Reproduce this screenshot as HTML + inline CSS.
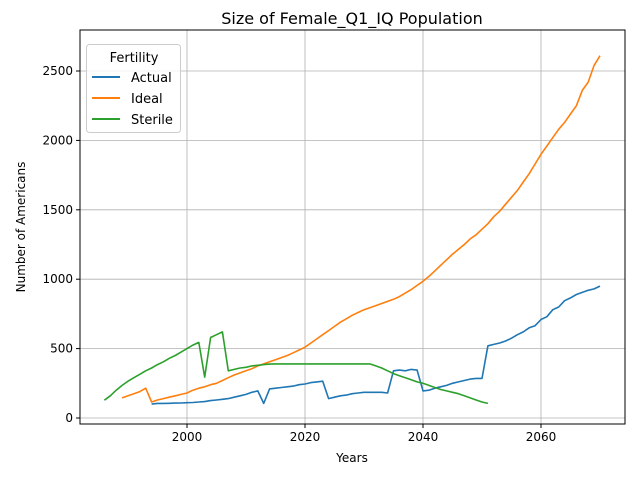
<!DOCTYPE html>
<html><head><meta charset="utf-8"><style>
body{margin:0;background:#fff}
svg{font-family:"DejaVu Sans","Liberation Sans",sans-serif}
</style></head><body>
<svg id="chart" width="640" height="480">
<rect width="640" height="480" fill="#fff"/>
<g id="grid"></g>
<g id="series"></g>
<rect x="80" y="30" width="545" height="394" fill="none" stroke="#000" stroke-width="1"/>
<g id="axes"></g>
<text x="352" y="29" text-anchor="middle" font-size="16" dy="-5">Size of Female_Q1_IQ Population</text>
<text x="352" y="462" text-anchor="middle" font-size="12">Years</text>
<text x="25" y="227" text-anchor="middle" font-size="12" transform="rotate(-90 25 227)">Number of Americans</text>
<g>
<rect x="86.5" y="44.5" width="94" height="88" rx="3" fill="#fff" fill-opacity="0.8" stroke="#ccc"/>
<text x="134" y="62" text-anchor="middle" font-size="13">Fertility</text>
<line x1="92" y1="77" x2="120" y2="77" stroke="#1f77b4" stroke-width="2"/>
<text x="131" y="82" font-size="13">Actual</text>
<line x1="92" y1="98" x2="120" y2="98" stroke="#ff7f0e" stroke-width="2"/>
<text x="131" y="103" font-size="13">Ideal</text>
<line x1="92" y1="119" x2="120" y2="119" stroke="#2ca02c" stroke-width="2"/>
<text x="131" y="124" font-size="13">Sterile</text>
</g>
</svg>
<script>
const xTicks=[2000,2020,2040,2060];
const yTicks=[0,500,1000,1500,2000,2500];
const actualStart=1994;
const actualVals=[100,105,105,106,107,108,110,112,115,118,125,130,135,140,150,160,170,185,195,105,210,215,220,225,230,240,245,255,260,265,140,150,160,165,175,180,185,185,185,185,180,340,345,340,350,345,195,200,215,225,235,250,260,270,280,285,285,520,530,540,555,575,600,620,650,665,710,730,780,800,845,865,890,905,920,930,950];
const idealStart=1989;
const idealVals=[145,160,175,190,215,115,130,140,150,160,170,180,200,215,225,240,250,270,290,310,325,340,355,375,390,405,420,435,450,470,490,510,540,570,600,630,660,690,715,740,760,780,795,810,825,840,855,875,900,925,955,985,1020,1060,1100,1140,1180,1215,1250,1290,1320,1360,1400,1450,1490,1540,1590,1640,1700,1760,1830,1900,1960,2020,2080,2130,2190,2250,2360,2420,2540,2610];
const sterileStart=1986;
const sterileVals=[128,160,200,235,265,290,315,340,360,385,405,430,450,475,500,525,545,295,580,600,620,340,350,360,365,375,380,385,388,390,390,390,390,390,390,390,390,390,390,390,390,390,390,390,390,390,375,360,340,320,305,290,275,260,250,235,220,205,195,185,175,160,145,130,115,105];
const X=y=>187+(y-2000)*5.9, Y=v=>418-v*0.1388;
const ns="http://www.w3.org/2000/svg";
const grid=document.getElementById('grid'),axes=document.getElementById('axes'),ser=document.getElementById('series');
function mk(tag,attrs,parent){const e=document.createElementNS(ns,tag);for(const k in attrs)e.setAttribute(k,attrs[k]);parent.appendChild(e);return e;}
xTicks.forEach(t=>{const x=X(t);
 const g=mk('line',{x1:x,y1:30,x2:x,y2:424,stroke:'#b0b0b0','stroke-width':0.8},grid);
 
 
 mk('line',{x1:x,y1:424,x2:x,y2:428,stroke:'#000'},axes);
 const tx=mk('text',{x:x,y:441,'text-anchor':'middle','font-size':12},axes);tx.textContent=t;
 
 
});
yTicks.forEach(t=>{const y=Y(t);
 const g=mk('line',{x1:80,y1:y,x2:625,y2:y,stroke:'#b0b0b0','stroke-width':0.8},grid);
 
 
 mk('line',{x1:76,y1:y,x2:80,y2:y,stroke:'#000'},axes);
 const tx=mk('text',{x:73,y:y+4,'text-anchor':'end','font-size':12},axes);tx.textContent=t;
 
 
});
function line(start,vals,color,name){
 const p=vals.map((v,i)=>X(start+i).toFixed(1)+','+Y(v).toFixed(1)).join(' ');
 const l=mk('polyline',{points:p,fill:'none',stroke:color,'stroke-width':1.6,'stroke-linejoin':'round'},ser);
 
 
}
line(actualStart,actualVals,'#1f77b4','actual-line');
line(idealStart,idealVals,'#ff7f0e','ideal-line');
line(sterileStart,sterileVals,'#2ca02c','sterile-line');
</script>
</body></html>
